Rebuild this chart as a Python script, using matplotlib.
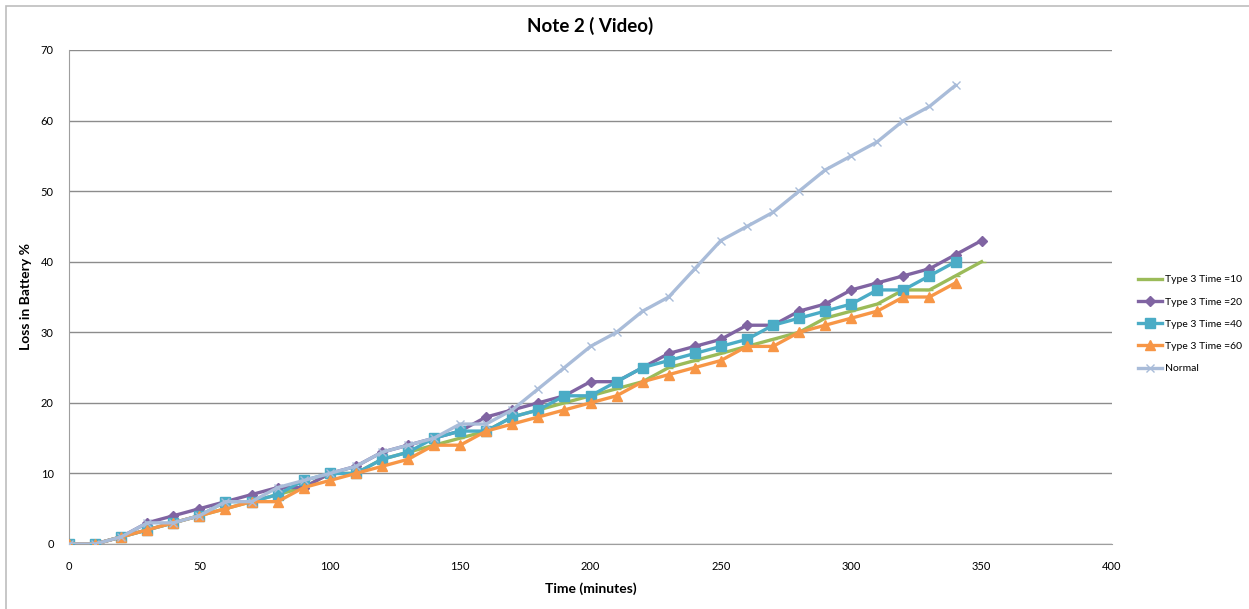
import matplotlib
matplotlib.use('Agg')
import matplotlib.pyplot as plt
from matplotlib.patches import Rectangle

plt.rcParams['font.family'] = ['Lato', 'DejaVu Sans']

# Datos
tiempo = [0, 10, 20, 30, 40, 50, 60, 70, 80, 90, 100, 110, 120, 130, 140, 150, 160, 170,
          180, 190, 200, 210, 220, 230, 240, 250, 260, 270, 280, 290, 300, 310, 320, 330,
          340, 350]

tipo3_t10 = [0, 0, 1, 2, 3, 4, 5, 6, 7, 8, 10, 10, 12, 13, 14, 15, 16, 18, 19, 20, 21, 22,
             23, 25, 26, 27, 28, 29, 30, 32, 33, 34, 36, 36, 38, 40]
tipo3_t20 = [0, 0, 1, 3, 4, 5, 6, 7, 8, 8, 10, 11, 13, 14, 15, 16, 18, 19, 20, 21, 23, 23,
             25, 27, 28, 29, 31, 31, 33, 34, 36, 37, 38, 39, 41, 43]
tipo3_t40 = [0, 0, 1, 2, 3, 4, 6, 6, 7, 9, 10, 10, 12, 13, 15, 16, 16, 18, 19, 21, 21, 23,
             25, 26, 27, 28, 29, 31, 32, 33, 34, 36, 36, 38, 40]
tipo3_t60 = [0, 0, 1, 2, 3, 4, 5, 6, 6, 8, 9, 10, 11, 12, 14, 14, 16, 17, 18, 19, 20, 21,
             23, 24, 25, 26, 28, 28, 30, 31, 32, 33, 35, 35, 37]
normal = [0, 0, 1, 3, 3, 4, 6, 6, 8, 9, 10, 11, 13, 14, 15, 17, 17, 19, 22, 25, 28, 30, 33,
          35, 39, 43, 45, 47, 50, 53, 55, 57, 60, 62, 65]

etiquetas = ['Type 3 Time =10', 'Type 3 Time =20', 'Type 3 Time =40',
             'Type 3 Time =60', 'Normal']

# Figura
fig = plt.figure(figsize=(12.49, 6.09), dpi=100)
ax = fig.add_axes([69 / 1249, 65 / 609, (1112 - 69) / 1249, (544 - 50) / 609])

# Marco exterior del grafico
fig.patches.append(Rectangle((6 / 1249, -0.05), 1.1, (606 - 3) / 609 + 0.05,
                             transform=fig.transFigure, fill=False,
                             edgecolor='#bdbdbd', linewidth=1.2))

ax.plot(tiempo[:len(tipo3_t10)], tipo3_t10, color='#9bbb59', lw=2.4,
        marker='_', ms=6, label=etiquetas[0], zorder=3)
ax.plot(tiempo[:len(tipo3_t20)], tipo3_t20, color='#8064a2', lw=2.4,
        marker='D', ms=5, label=etiquetas[1], zorder=4)
ax.plot(tiempo[:len(tipo3_t40)], tipo3_t40, color='#4bacc6', lw=2.4,
        marker='s', ms=7, label=etiquetas[2], zorder=5)
ax.plot(tiempo[:len(tipo3_t60)], tipo3_t60, color='#f79646', lw=2.4,
        marker='^', ms=7, label=etiquetas[3], zorder=6)
ax.plot(tiempo[:len(normal)], normal, color='#a9bcd9', lw=2.4,
        marker='x', ms=6, mew=1, label=etiquetas[4], zorder=7)

ax.set_xlim(0, 400)
ax.set_ylim(0, 70)
ax.set_xticks(range(0, 401, 50))
ax.set_yticks(range(0, 71, 10))
ax.margins(0)

# Estilo tipo Excel
ax.yaxis.grid(True, color='#8c8c8c', linewidth=1)
ax.set_axisbelow(True)
for lado in ['top', 'right']:
    ax.spines[lado].set_visible(False)
ax.spines['left'].set_color('#9e9e9e')
ax.spines['bottom'].set_color('#9e9e9e')
ax.tick_params(length=0, labelsize=8, pad=12)
ax.tick_params(axis='y', pad=11)
for t in ax.get_xticklabels() + ax.get_yticklabels():
    t.set_clip_on(False)

ax.set_title('Note 2 ( Video)', fontsize=13.5, fontweight='bold', pad=13)
ax.set_xlabel('Time (minutes)', fontsize=10, fontweight='bold', labelpad=8)
ax.set_ylabel('Loss in Battery %', fontsize=10, fontweight='bold', labelpad=6)

ax.legend(loc='center left', bbox_to_anchor=((1138 - 69) / 1043, 0.445), frameon=False,
          fontsize=7.5, handlelength=2.3, handletextpad=0.3, labelspacing=1.25,
          borderpad=0, borderaxespad=0)

fig.savefig('out.png', dpi=100)
